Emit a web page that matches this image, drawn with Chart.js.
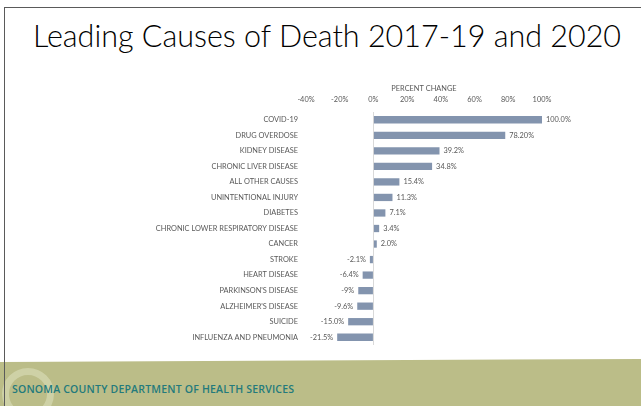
<!DOCTYPE html>
<html>
<head>
<meta charset="utf-8">
<script src="https://cdn.jsdelivr.net/npm/chart.js@4.4.1/dist/chart.umd.min.js"></script>
<style>
  html, body { margin: 0; padding: 0; background: #fff; }
  #slide { position: relative; width: 641px; height: 406px; overflow: hidden; background: #fff; }
  #frameTop { position: absolute; left: 4px; top: 7px; right: 0; height: 1px; background: #5a5a5a; }
  #frameLeft { position: absolute; left: 4px; top: 7px; width: 1px; bottom: 0; background: #5a5a5a; z-index: 3; }
  #title { position: absolute; left: 33px; top: 17px; font-family: "Lato", sans-serif; font-weight: 300;
           font-size: 30.5px; color: #000; white-space: nowrap; }
  #band { position: absolute; left: 0; top: 359px; width: 641px; height: 47px; background: #bbbd88;
          clip-path: polygon(0 3px, 100% 0, 100% 100%, 0 100%); }
  #swirl { position: absolute; left: 2px; top: 368px; width: 52px; height: 52px; border-radius: 50%;
           border: 7px solid rgba(226,229,196,0.5); box-sizing: border-box; }
  #footer { position: absolute; left: 12px; top: 382px; font-family: "Open Sans", sans-serif; font-weight: 600;
            font-size: 10.5px; color: #237a7c; white-space: nowrap; letter-spacing: 0.2px; }
  #wrap { position: absolute; left: 0; top: 70px; width: 641px; height: 281px; }
</style>
</head>
<body>
<div id="slide">
  <div id="frameTop"></div>
  <div id="frameLeft"></div>
  <div id="title">Leading Causes of Death 2017-19 and 2020</div>
  <div id="wrap"><canvas id="chart"></canvas></div>
  <div id="band"></div>
  <div id="swirl"></div>
  <div id="footer">SONOMA COUNTY DEPARTMENT OF HEALTH SERVICES</div>
</div>
<script>
  // datos
  const causes = [
    "COVID-19", "DRUG OVERDOSE", "KIDNEY DISEASE", "CHRONIC LIVER DISEASE", "ALL OTHER CAUSES",
    "UNINTENTIONAL INJURY", "DIABETES", "CHRONIC LOWER RESPIRATORY DISEASE", "CANCER", "STROKE",
    "HEART DISEASE", "PARKINSON'S DISEASE", "ALZHEIMER'S DISEASE", "SUICIDE", "INFLUENZA AND PNEUMONIA"
  ];
  const pctChange = [100.0, 78.2, 39.2, 34.8, 15.4, 11.3, 7.1, 3.4, 2.0, -2.1, -6.4, -9, -9.6, -15.0, -21.5];
  const valueLabels = [
    "100.0%", "78.20%", "39.2%", "34.8%", "15.4%", "11.3%", "7.1%", "3.4%", "2.0%",
    "-2.1%", "-6.4%", "-9%", "-9.6%", "-15.0%", "-21.5%"
  ];
  const xTicks = [-40, -20, 0, 20, 40, 60, 80, 100];

  const TXT = "#595959";
  const FONT = "Lato";
  const FS = 7.4;

  // etiquetas de valor al lado de cada barra
  const barLabels = {
    id: "barLabels",
    afterDatasetsDraw(chart) {
      const ctx = chart.ctx;
      const meta = chart.getDatasetMeta(0);
      ctx.save();
      ctx.font = FS + "px " + FONT;
      ctx.fillStyle = TXT;
      ctx.textBaseline = "middle";
      meta.data.forEach((bar, i) => {
        if (pctChange[i] >= 0) {
          ctx.textAlign = "left";
          ctx.fillText(valueLabels[i], bar.x + 4, bar.y);
        } else {
          ctx.textAlign = "right";
          ctx.fillText(valueLabels[i], bar.x - 4, bar.y);
        }
      });
      ctx.restore();
    }
  };

  new Chart(document.getElementById("chart"), {
    type: "bar",
    data: {
      labels: causes,
      datasets: [{
        data: pctChange,
        backgroundColor: "#8394ae",
        barPercentage: 0.47,
        categoryPercentage: 1,
      }],
    },
    options: {
      indexAxis: "y",
      responsive: true,
      maintainAspectRatio: false,
      animation: false,
      layout: { padding: { left: 0, right: 99, top: 0, bottom: 6 } },
      plugins: { legend: { display: false }, tooltip: { enabled: false } },
      scales: {
        x: {
          position: "top",
          min: -40,
          max: 100,
          afterBuildTicks: (s) => { s.ticks = xTicks.map((v) => ({ value: v })); },
          afterFit: (s) => { s.height = 42; },
          ticks: {
            font: { family: FONT, size: FS },
            color: TXT,
            padding: 8,
            callback: (v) => v + "%",
          },
          grid: {
            drawTicks: false,
            color: (c) => (c.tick && c.tick.value === 0 ? "#d9d9d9" : "rgba(0,0,0,0)"),
          },
          border: { display: false },
          title: {
            display: true,
            text: "PERCENT CHANGE",
            font: { family: FONT, size: FS },
            color: TXT,
            padding: { top: 14, bottom: 0 },
          },
        },
        y: {
          afterFit: (s) => { s.width = 306; },
          ticks: { font: { family: FONT, size: FS }, color: TXT, padding: 0, autoSkip: false },
          grid: { display: false },
          border: { display: false },
        },
      },
    },
    plugins: [barLabels],
  });
</script>
</body>
</html>
